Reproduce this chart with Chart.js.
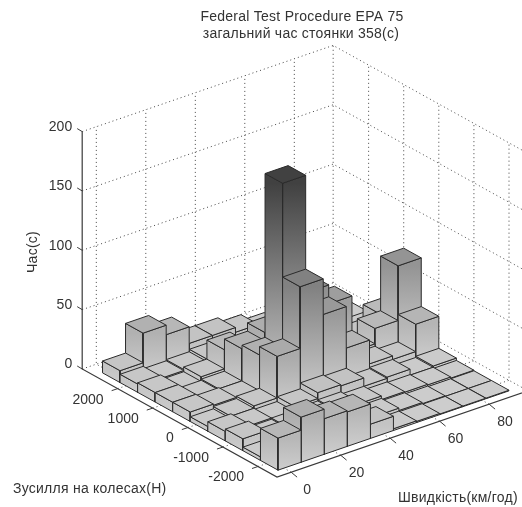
<!DOCTYPE html>
<html>
<head>
<meta charset="utf-8">
<script src="https://cdn.jsdelivr.net/npm/chart.js@4"></script>
<style>
html, body { margin: 0; padding: 0; background: #fff; }
#wrap { width: 522px; height: 507px; }
</style>
</head>
<body>
<div id="wrap"><canvas id="myChart" width="522" height="507"></canvas></div>
<script>
const speedBins = [2.3, 11.6, 20.9, 30.3, 39.6, 48.9, 58.3, 67.6, 76.9, 86.3];
const forceBins = [-2084, -1584, -1084, -584, -84, 416, 916, 1416, 1916, 2416];
// hours[speed bin][force bin]
const hours = [
    [27, 3, 10, 8, 4, 8, 8, 8, 7, 10],
    [38, 6, 5, 6, 6, 7, 5, 4, 5, 35],
    [30, 8, 6, 5, 8, 6, 6, 8, 6, 27],
    [29, 4, 7, 9, 43, 36, 33, 24, 8, 13],
    [12, 5, 8, 14, 95, 174, 40, 6, 5, 13],
    [1.5, 4, 6, 13, 65, 75, 6, 4, 4, 9],
    [1, 2, 3, 6, 30, 59, 8, 3, 3, 4],
    [0.5, 1, 2.5, 7, 10, 12, 5, 3, 2, 2],
    [0.5, 0.5, 2, 2, 7, 25, 10, 2, 1, 1],
    [0.5, 0.5, 1, 3, 30, 71, 22, 2, 1, 1]
];
const speedTicks = [0, 20, 40, 60, 80];
const forceTicks = [-2000, -1000, 0, 1000, 2000];
const hourTicks = [0, 50, 100, 150, 200];
const titleLines = ['Federal Test Procedure EPA 75', 'загальний час стоянки 358(с)'];
const speedLabel = 'Швидкість(км/год)';
const forceLabel = 'Зусилля на колесах(Н)';
const hourLabel = 'Час(с)';

const speedMin = -5.7, speedMax = 95.7;
const forceMin = -2540, forceMax = 3010;
const hourMax = 200;
const speedHalf = 4.665, forceHalf = 250;

// fixed view of the matlab axes box
function project(s, f, z) {
    const ds = s - speedMin, df = f - forceMin;
    return {
        x: 277 + ds * 2.475 - df * 0.0351,
        y: 477 - ds * 0.85 - df * 0.01946 - z * 1.187
    };
}

function grey(z) {
    const v = Math.round(205 - 140 * Math.min(z, 180) / 174);
    return 'rgb(' + v + ',' + v + ',' + v + ')';
}

function lineSet(points, color, dash, width) {
    return {
        data: points,
        showLine: true,
        pointRadius: 0,
        borderColor: color,
        borderWidth: width || 1,
        borderDash: dash || [],
        fill: false,
        tension: 0
    };
}

function faceSet(points, z0, z1) {
    return {
        data: points.concat([points[0]]),
        showLine: true,
        pointRadius: 0,
        borderColor: '#2b2b2b',
        borderWidth: 1,
        tension: 0,
        fill: 'shape',
        backgroundColor: function (ctx) {
            if (z0 === z1) return grey(z1);
            const yScale = ctx.chart.scales.y;
            const y0 = yScale.getPixelForValue(points[0].y);
            const y1 = yScale.getPixelForValue(points[points.length - 1].y);
            if (!isFinite(y0) || !isFinite(y1)) return grey(z1);
            const g = ctx.chart.ctx.createLinearGradient(0, y0, 0, y1);
            g.addColorStop(0, grey(z0));
            g.addColorStop(1, grey(z1));
            return g;
        }
    };
}

// chart.js paints the last dataset first, so nearest bars go first in this list
const barSets = [];
speedBins.forEach((s, i) => {
    forceBins.forEach((f, j) => {
        const z = hours[i][j];
        const s0 = s - speedHalf, s1 = s + speedHalf;
        const f0 = f - forceHalf, f1 = f + forceHalf;
        barSets.push(faceSet([project(s0, f0, z), project(s1, f0, z), project(s1, f1, z), project(s0, f1, z)], z, z));
        // side faces: points run bottom first, top last for the gradient
        barSets.push(faceSet([project(s0, f0, 0), project(s1, f0, 0), project(s1, f0, z), project(s0, f0, z)], 0, z));
        barSets.push(faceSet([project(s0, f0, 0), project(s0, f1, 0), project(s0, f1, z), project(s0, f0, z)], 0, z));
    });
});

const dotted = '#444';
const dots = [1, 3];
const gridSets = [];
hourTicks.forEach(z => {
    if (z === 0) return;
    gridSets.push(lineSet([project(speedMin, forceMax, z), project(speedMax, forceMax, z), project(speedMax, forceMin, z)], dotted, dots));
});
speedTicks.forEach(s => {
    gridSets.push(lineSet([project(s, forceMin, 0), project(s, forceMax, 0), project(s, forceMax, hourMax)], dotted, dots));
});
forceTicks.forEach(f => {
    gridSets.push(lineSet([project(speedMin, f, 0), project(speedMax, f, 0), project(speedMax, f, hourMax)], dotted, dots));
});
gridSets.push(lineSet([project(speedMin, forceMax, 0), project(speedMax, forceMax, 0), project(speedMax, forceMin, 0)], dotted, dots));
gridSets.push(lineSet([project(speedMax, forceMax, 0), project(speedMax, forceMax, hourMax)], dotted, dots));

const axisColor = '#3a3a3a';
const axisSets = [
    lineSet([project(speedMin, forceMax, hourMax), project(speedMin, forceMax, 0), project(speedMin, forceMin, 0), project(speedMax, forceMin, 0)], axisColor, [], 1.2)
];
hourTicks.forEach(z => {
    const p = project(speedMin, forceMax, z);
    axisSets.push(lineSet([p, { x: p.x - 5, y: p.y - 3 }], axisColor));
});
speedTicks.forEach(s => {
    const p = project(s, forceMin, 0);
    axisSets.push(lineSet([p, { x: p.x + 6, y: p.y + 5 }], axisColor));
});
forceTicks.forEach(f => {
    const p = project(speedMin, f, 0);
    axisSets.push(lineSet([p, { x: p.x - 6, y: p.y + 2 }], axisColor));
});

const textPlugin = {
    id: 'axisText',
    afterDraw(chart) {
        const c = chart.ctx, xs = chart.scales.x, ys = chart.scales.y;
        function put(t, x, y, align) {
            c.textAlign = align;
            c.fillText(t, xs.getPixelForValue(x), ys.getPixelForValue(y));
        }
        c.save();
        c.fillStyle = '#333';
        c.textBaseline = 'middle';
        c.font = '14px "Liberation Sans", Arial, sans-serif';
        hourTicks.forEach(z => {
            const p = project(speedMin, forceMax, z);
            put(String(z), p.x - 10, p.y - 4.5, 'right');
        });
        speedTicks.forEach(s => {
            const p = project(s, forceMin, 0);
            put(String(s), p.x + 16, p.y + 17.5, 'center');
        });
        forceTicks.forEach(f => {
            const p = project(speedMin, f, 0);
            put(String(f), p.x - 14, p.y + 11, 'right');
        });
        c.letterSpacing = '0.25px';
        put(titleLines[0], 302, 17, 'center');
        put(titleLines[1], 301, 34, 'center');
        put(forceLabel, 13, 489, 'left');
        put(speedLabel, 398, 498, 'left');
        c.save();
        c.translate(xs.getPixelForValue(33), ys.getPixelForValue(252));
        c.rotate(-Math.PI / 2);
        c.textAlign = 'center';
        c.fillText(hourLabel, 0, 0);
        c.restore();
        c.restore();
    }
};

new Chart(document.getElementById('myChart'), {
    type: 'scatter',
    data: { datasets: axisSets.concat(barSets, gridSets) },
    plugins: [textPlugin],
    options: {
        responsive: false,
        animation: false,
        events: [],
        layout: { padding: 0 },
        plugins: { legend: { display: false }, tooltip: { enabled: false } },
        scales: {
            x: { type: 'linear', display: false, min: 0, max: 522 },
            y: { type: 'linear', display: false, min: 0, max: 507, reverse: true }
        }
    }
});
</script>
</body>
</html>
